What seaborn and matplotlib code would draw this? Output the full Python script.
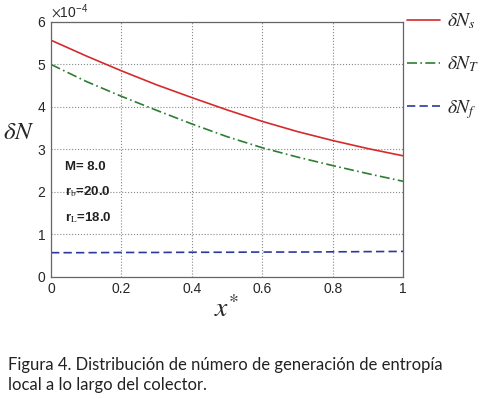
import matplotlib.pyplot as plt
import numpy as np
import pandas as pd
import seaborn as sns
from matplotlib.ticker import ScalarFormatter

x_star = [0.0, 0.1, 0.2, 0.3, 0.4, 0.5, 0.6, 0.7, 0.8, 0.9, 1.0]
dN_s = [5.57, 5.20, 4.85, 4.52, 4.22, 3.93, 3.66, 3.42, 3.21, 3.02, 2.85]
dN_T = [5.00, 4.60, 4.25, 3.92, 3.60, 3.30, 3.04, 2.82, 2.62, 2.43, 2.25]
dN_f = [0.57, 0.57, 0.575, 0.575, 0.58, 0.58, 0.585, 0.585, 0.59, 0.595, 0.60]

series_labels = [r"$\delta N_{s}$", r"$\delta N_{T}$", r"$\delta N_{f}$"]
params = ["M= 8.0", r"r$_{\mathrm{b}}$=20.0", r"r$_{\mathrm{L}}$=18.0"]
caption = ("Figura 4. Distribución de número de generación de entropía\n"
           "local a lo largo del colector.")

df = pd.DataFrame({
    "x": x_star * 3,
    "dN": np.array(dN_s + dN_T + dN_f) * 1e-4,
    "serie": [series_labels[0]] * 11 + [series_labels[1]] * 11 + [series_labels[2]] * 11,
})

sns.set_style("white")
plt.rcParams["font.family"] = ["Liberation Sans", "DejaVu Sans"]
plt.rcParams["mathtext.fontset"] = "stix"

fig = plt.figure(figsize=(4.81, 3.99), dpi=100)
ax = fig.add_axes([0.106, 0.306, 0.732, 0.639])

palette = {series_labels[0]: "#d62a2a", series_labels[1]: "#2e7d32", series_labels[2]: "#2b3a9a"}
dashes = {series_labels[0]: "", series_labels[1]: (6, 2, 1, 2), series_labels[2]: (5, 2.5)}
sns.lineplot(data=df, x="x", y="dN", hue="serie", style="serie", palette=palette,
             dashes=dashes, linewidth=1.2, ax=ax)

ax.set_xlim(0, 1)
ax.set_ylim(0, 6e-4)
ax.set_xticks([0, 0.2, 0.4, 0.6, 0.8, 1])
ax.set_xticklabels(["0", "0.2", "0.4", "0.6", "0.8", "1"])
ax.set_yticks(np.arange(0, 7) * 1e-4)
fmt = ScalarFormatter(useMathText=True)
fmt.set_powerlimits((-3, 3))
ax.yaxis.set_major_formatter(fmt)
ax.yaxis.get_offset_text().set_fontsize(10)
ax.yaxis.get_offset_text().set_fontfamily("Liberation Sans")

ax.grid(True, linestyle=":", color="#888888", linewidth=0.8)
for s in ax.spines.values():
    s.set_color("#666666")
    s.set_linewidth(0.9)
ax.tick_params(direction="in", labelsize=10, length=3, color="#666666")

ax.set_xlabel(r"$x^{*}$", fontsize=20, labelpad=0)
ax.set_ylabel(r"$\delta N$", fontsize=18, rotation=0, labelpad=12)
ax.yaxis.set_label_coords(-0.09, 0.52)

for i, t in enumerate(params):
    ax.text(0.04, 0.42 - i * 0.1, t, transform=ax.transAxes, fontsize=9.5,
            fontweight="bold", color="#222222")

leg = ax.legend(loc="upper left", bbox_to_anchor=(1.01, 1.04), frameon=False,
                fontsize=14, labelspacing=1.2, handlelength=1.7,
                handletextpad=0.4, borderpad=0, borderaxespad=0, title=None)

fig.text(0.017, 0.015, caption, fontsize=12.0, family="Lato", color="#222222",
         linespacing=1.3, va="bottom")

plt.savefig("out.png", dpi=100)
